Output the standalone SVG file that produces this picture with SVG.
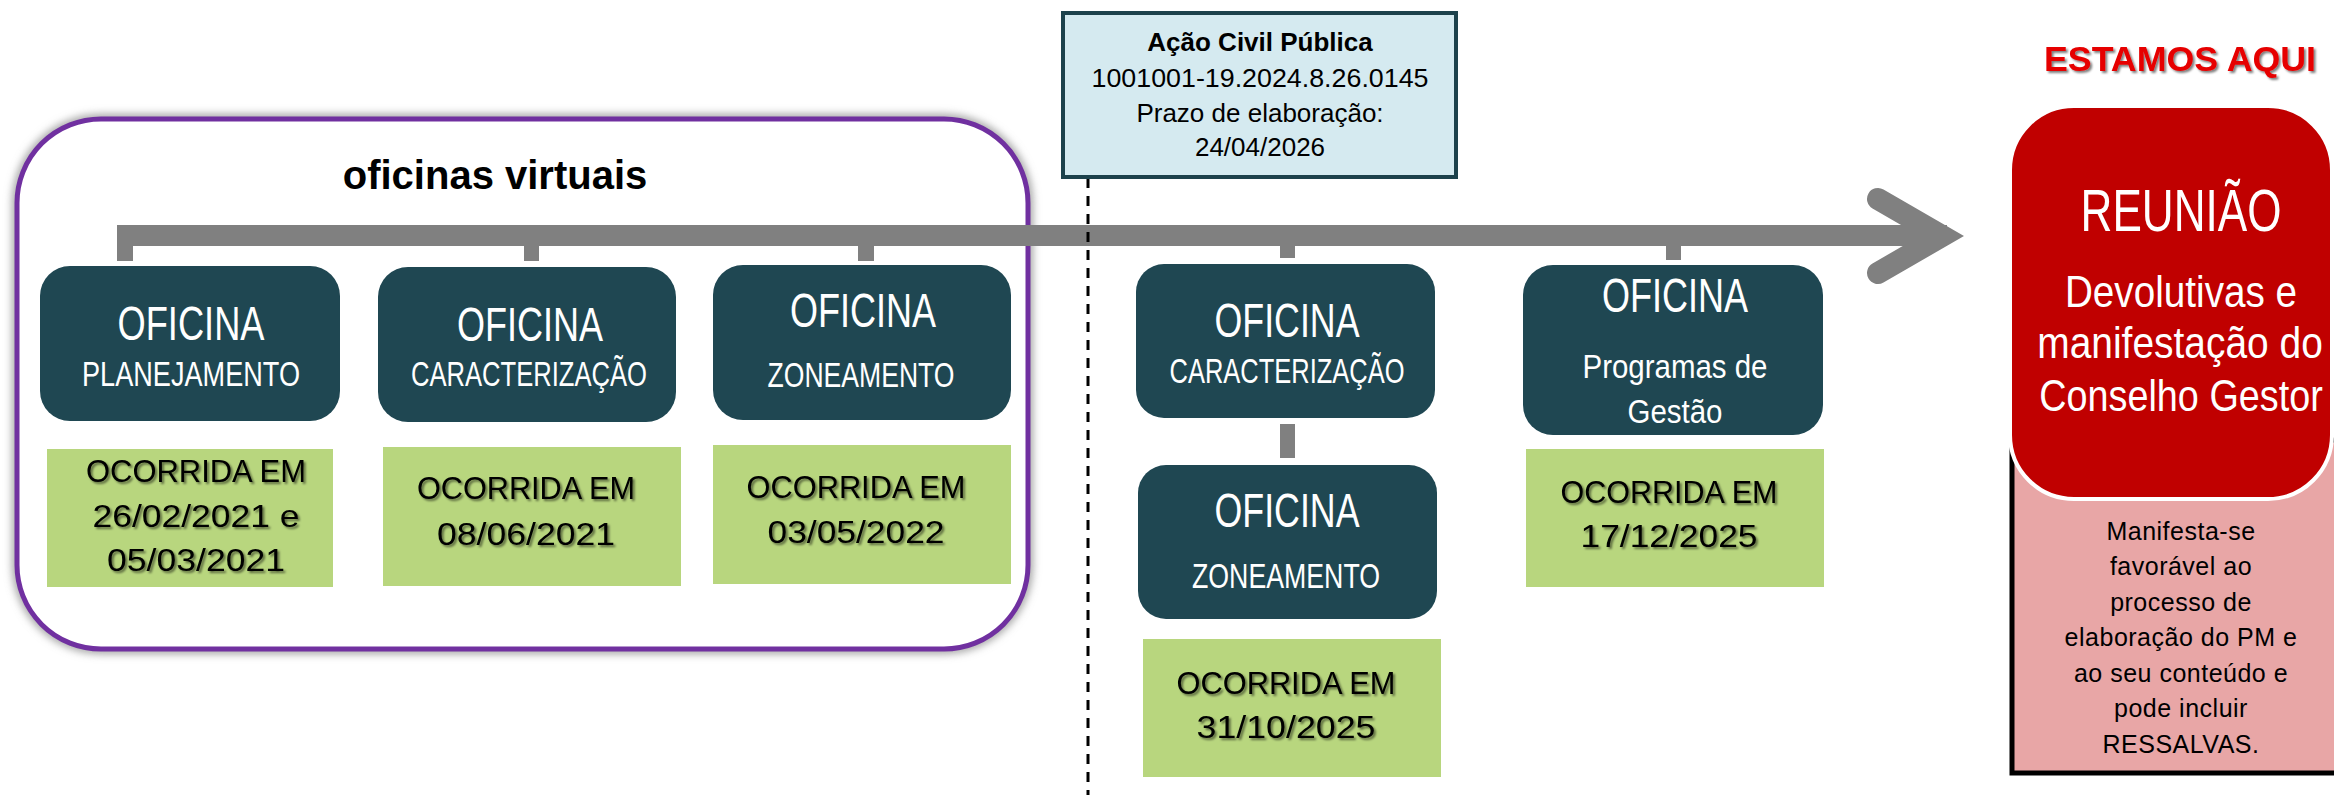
<svg xmlns="http://www.w3.org/2000/svg" width="2334" height="795" viewBox="0 0 2334 795">
<defs>
<style>
.bg{fill:#ffffff}
.teal{fill:#1F4752}
.green{fill:#B8D67E}
.bar{fill:#808080}
.tw{fill:#ffffff;font-family:"Liberation Sans",Arial,sans-serif;text-anchor:middle}
.big{font-size:48px}
.sub{font-size:35px}
.gt{fill:#000;font-family:"Liberation Sans",Arial,sans-serif;font-size:32px;text-anchor:middle;filter:url(#tsh)}
.acp{fill:#000;font-family:"Liberation Sans",Arial,sans-serif;font-size:26px;text-anchor:middle}
.pk{fill:#000;font-family:"Liberation Sans",Arial,sans-serif;font-size:25px;letter-spacing:0.5px;text-anchor:middle}
</style>
<filter id="glow" x="-10%" y="-10%" width="120%" height="120%">
<feGaussianBlur stdDeviation="4"/>
</filter>
<filter id="tsh" x="-10%" y="-20%" width="120%" height="150%">
<feDropShadow dx="2" dy="2" stdDeviation="1.2" flood-color="#000" flood-opacity="0.5"/>
</filter>
</defs>
<rect class="bg" x="0" y="0" width="2334" height="795"/>

<g id="grupo-oficinas-virtuais">
<rect x="17" y="119" width="1011" height="530" rx="84" ry="84" fill="none" stroke="#9a9a9a" stroke-width="9" filter="url(#glow)"/>
<rect x="17" y="119" width="1011" height="530" rx="84" ry="84" fill="#ffffff" stroke="#7030A0" stroke-width="5"/>
<text x="495" y="189" font-family="Liberation Sans,Arial,sans-serif" font-size="40" font-weight="bold" text-anchor="middle" fill="#000">oficinas virtuais</text>
</g>

<g id="connectors">
<rect class="bar" x="117" y="225" width="1830" height="21"/>
<polyline points="1878,199 1942,236 1878,273" fill="none" stroke="#808080" stroke-width="22" stroke-linecap="round" stroke-linejoin="miter" stroke-miterlimit="10"/>
<rect class="bar" x="117" y="240" width="16" height="21"/>
<rect class="bar" x="524" y="240" width="15" height="21"/>
<rect class="bar" x="858" y="240" width="16" height="21"/>
<rect class="bar" x="1280" y="240" width="15" height="18"/>
<rect class="bar" x="1666" y="240" width="15" height="20"/>
<rect class="bar" x="1280" y="424" width="15" height="34"/>
<line x1="1088" y1="178" x2="1088" y2="795" stroke="#000" stroke-width="3" stroke-dasharray="10 8"/>
</g>

<g id="acp">
<rect x="1063" y="13" width="393" height="164" fill="#D5EAF0" stroke="#1D424C" stroke-width="4"/>
<text class="acp" x="1260" y="51" font-weight="bold" font-size="25">Ação Civil Pública</text>
<text class="acp" x="1260" y="87" textLength="337" lengthAdjust="spacingAndGlyphs">1001001-19.2024.8.26.0145</text>
<text class="acp" x="1260" y="122">Prazo de elaboração:</text>
<text class="acp" x="1260" y="156">24/04/2026</text>
</g>

<g id="oficina-planejamento">
<rect class="teal" x="40" y="266" width="300" height="155" rx="30"/>
<text class="tw big" x="191" y="340" textLength="147" lengthAdjust="spacingAndGlyphs">OFICINA</text>
<text class="tw sub" x="191" y="386" textLength="218" lengthAdjust="spacingAndGlyphs">PLANEJAMENTO</text>
</g>
<g id="data-planejamento">
<rect class="green" x="47" y="449" width="286" height="138"/>
<text class="gt" x="196" y="482" textLength="220" lengthAdjust="spacingAndGlyphs">OCORRIDA EM</text>
<text class="gt" x="196" y="527" textLength="207" lengthAdjust="spacingAndGlyphs">26/02/2021 e</text>
<text class="gt" x="196" y="571" textLength="178" lengthAdjust="spacingAndGlyphs">05/03/2021</text>
</g>

<g id="oficina-caracterizacao-1">
<rect class="teal" x="378" y="267" width="298" height="155" rx="30"/>
<text class="tw big" x="530" y="341" textLength="146" lengthAdjust="spacingAndGlyphs">OFICINA</text>
<text class="tw sub" x="529" y="386" textLength="236" lengthAdjust="spacingAndGlyphs">CARACTERIZAÇÃO</text>
</g>
<g id="data-caracterizacao-1">
<rect class="green" x="383" y="447" width="298" height="139"/>
<text class="gt" x="526" y="499" textLength="218" lengthAdjust="spacingAndGlyphs">OCORRIDA EM</text>
<text class="gt" x="526" y="545" textLength="178" lengthAdjust="spacingAndGlyphs">08/06/2021</text>
</g>

<g id="oficina-zoneamento-1">
<rect class="teal" x="713" y="265" width="298" height="155" rx="30"/>
<text class="tw big" x="863" y="327" textLength="146" lengthAdjust="spacingAndGlyphs">OFICINA</text>
<text class="tw sub" x="861" y="387" textLength="187" lengthAdjust="spacingAndGlyphs">ZONEAMENTO</text>
</g>
<g id="data-zoneamento-1">
<rect class="green" x="713" y="445" width="298" height="139"/>
<text class="gt" x="856" y="498" textLength="219" lengthAdjust="spacingAndGlyphs">OCORRIDA EM</text>
<text class="gt" x="856" y="543" textLength="177" lengthAdjust="spacingAndGlyphs">03/05/2022</text>
</g>

<g id="oficina-caracterizacao-2">
<rect class="teal" x="1136" y="264" width="299" height="154" rx="28"/>
<text class="tw big" x="1287" y="337" textLength="145" lengthAdjust="spacingAndGlyphs">OFICINA</text>
<text class="tw sub" x="1287" y="383" textLength="235" lengthAdjust="spacingAndGlyphs">CARACTERIZAÇÃO</text>
</g>

<g id="oficina-zoneamento-2">
<rect class="teal" x="1138" y="465" width="299" height="154" rx="28"/>
<text class="tw big" x="1287" y="527" textLength="145" lengthAdjust="spacingAndGlyphs">OFICINA</text>
<text class="tw sub" x="1286" y="588" textLength="188" lengthAdjust="spacingAndGlyphs">ZONEAMENTO</text>
</g>
<g id="data-zoneamento-2">
<rect class="green" x="1143" y="639" width="298" height="138"/>
<text class="gt" x="1286" y="694" textLength="219" lengthAdjust="spacingAndGlyphs">OCORRIDA EM</text>
<text class="gt" x="1286" y="738" textLength="179" lengthAdjust="spacingAndGlyphs">31/10/2025</text>
</g>

<g id="oficina-programas">
<rect class="teal" x="1523" y="265" width="300" height="170" rx="30"/>
<text class="tw big" x="1675" y="312" textLength="146" lengthAdjust="spacingAndGlyphs">OFICINA</text>
<text class="tw" x="1675" y="378" font-size="33" textLength="185" lengthAdjust="spacingAndGlyphs">Programas de</text>
<text class="tw" x="1675" y="423" font-size="33" textLength="95" lengthAdjust="spacingAndGlyphs">Gestão</text>
</g>
<g id="data-programas">
<rect class="green" x="1526" y="449" width="298" height="138"/>
<text class="gt" x="1669" y="503" textLength="217" lengthAdjust="spacingAndGlyphs">OCORRIDA EM</text>
<text class="gt" x="1669" y="547" textLength="177" lengthAdjust="spacingAndGlyphs">17/12/2025</text>
</g>

<g id="estamos-aqui">
<text x="2180" y="71" font-family="Liberation Sans,Arial,sans-serif" font-size="35" font-weight="bold" text-anchor="middle" fill="#E60000" filter="url(#tsh)" textLength="272" lengthAdjust="spacingAndGlyphs">ESTAMOS AQUI</text>
</g>

<g id="manifestacao">
<rect x="2012" y="440" width="335" height="333" fill="#E8A6A6" stroke="#000" stroke-width="5"/>
<text class="pk" x="2181" y="540">Manifesta-se</text>
<text class="pk" x="2181" y="575">favorável ao</text>
<text class="pk" x="2181" y="611">processo de</text>
<text class="pk" x="2181" y="646">elaboração do PM e</text>
<text class="pk" x="2181" y="682">ao seu conteúdo e</text>
<text class="pk" x="2181" y="717">pode incluir</text>
<text class="pk" x="2181" y="753">RESSALVAS.</text>
</g>

<g id="reuniao">
<rect x="2010" y="106" width="322" height="393" rx="64" ry="64" fill="#C00000" stroke="#ffffff" stroke-width="4"/>
<text class="tw" transform="translate(2181,231) scale(0.735,1)" x="0" y="0" font-size="60">REUNIÃO</text>
<text class="tw" transform="translate(2181,307) scale(0.86,1)" x="0" y="0" font-size="45">Devolutivas e</text>
<text class="tw" transform="translate(2180,358) scale(0.865,1)" x="0" y="0" font-size="45">manifestação do</text>
<text class="tw" transform="translate(2181,411) scale(0.84,1)" x="0" y="0" font-size="45">Conselho Gestor</text>
</g>
</svg>
